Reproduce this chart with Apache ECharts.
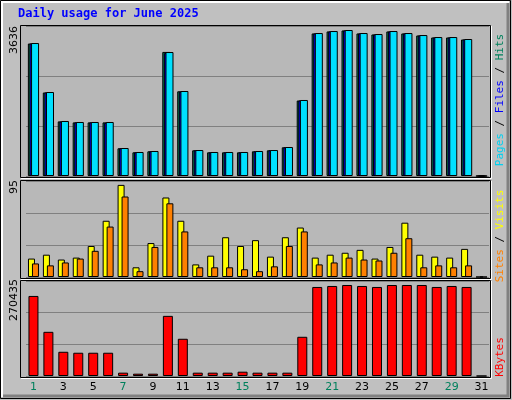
<!DOCTYPE html>
<html><head><meta charset="utf-8">
<script src="https://cdn.jsdelivr.net/npm/echarts@6/dist/echarts.min.js"></script>
<style>html,body{margin:0;padding:0;background:#c0c0c0}#c{width:512px;height:400px}</style>
</head><body><div id="c"></div>
<script>
const days = Array.from({length:31},(_,i)=>String(i+1));
const weekend = [1,7,8,14,15,21,22,28,29];
const hits = [3312,2092,1370,1345,1345,1345,697,598,623,3088,2117,647,598,598,598,623,647,722,1893,3561,3611,3636,3561,3536,3611,3561,3511,3461,3461,3412,0];
const files = [3300,2080,1355,1335,1335,1325,690,590,615,3060,2100,640,590,590,590,615,640,715,1880,3550,3600,3625,3550,3525,3600,3550,3500,3450,3450,3400,0];
const pages = [3300,2080,1360,1335,1335,1335,690,590,615,3090,2110,640,590,590,590,615,640,715,1880,3550,3600,3625,3550,3525,3600,3550,3500,3450,3450,3400,0];
const visits = [19,23,18,20,32,58,95,10,35,82,58,13,22,41,32,38,21,41,51,20,23,25,28,19,31,56,23,21,20,29,0];
const sites = [14,12,15,19,27,52,83,6,31,76,47,10,10,10,8,6,11,32,47,13,15,20,18,17,25,40,10,12,10,12,0];
const kbytes = [237900,131300,72000,69100,69100,69100,9900,6900,6900,178700,110600,9900,9900,9900,12800,9900,9900,9900,116500,264600,267500,270435,267500,264600,270400,270435,270435,264600,267500,264600,0];
const maxLabels = ['3636','95','270435'];

const chart = echarts.init(document.getElementById('c'));
const L=26, R=23;
const grids=[{left:L,right:R,top:26,height:150},{left:L,right:R,top:181,height:96},{left:L,right:R,top:281,height:95}];
const ymax=[3736,99,282300];
const xAxes = grids.map((g,i)=>({gridIndex:i,type:'category',data:days,boundaryGap:true,
  axisLine:{show:false},axisTick:{show:false},
  axisLabel:{show:i===2,margin:6,fontFamily:'DejaVu Sans',fontSize:11,
    color:(v)=>weekend.includes(+v)?'#00805c':'#000000'}}));
const yAxes = grids.map((g,i)=>({gridIndex:i,type:'value',min:0,max:ymax[i],interval:ymax[i]/3,
  axisLabel:{show:false},axisLine:{show:false},axisTick:{show:false},
  splitLine:{lineStyle:{color:'#808080',width:1}}}));
const bs={borderColor:'#000',borderWidth:1};
function bar(name,data,xi,color,w,gap){return {name,type:'bar',xAxisIndex:xi,yAxisIndex:xi,data,barWidth:w,barGap:gap,itemStyle:Object.assign({color},bs),silent:true,animation:false};}
const panelRects=[[20,25,470,152],[20,180,470,98],[20,280,470,97]];
const graphic=[
 {type:'rect',shape:{x:0.5,y:0.5,width:510,height:398},style:{fill:'#c0c0c0',stroke:'#000',lineWidth:1},z:-10},
 {type:'polyline',shape:{points:[[2,397],[2,2],[509,2]]},style:{stroke:'#fff',lineWidth:2,fill:null},z:-9},
 {type:'polyline',shape:{points:[[3,396],[508,396],[508,3]]},style:{stroke:'#808080',lineWidth:3,fill:null},z:-9},
];
panelRects.forEach(p=>{
 graphic.push({type:'rect',shape:{x:p[0]+0.5,y:p[1]+0.5,width:p[2],height:p[3]},style:{fill:'#b8b8b8',stroke:'#000',lineWidth:1},z:-8});
 graphic.push({type:'polyline',shape:{points:[[p[0]+1,p[1]+p[3]+1.5],[p[0]+p[2]+1.5,p[1]+p[3]+1.5],[p[0]+p[2]+1.5,p[1]+1]]},style:{stroke:'#fff',lineWidth:1,fill:null},z:-8});
});
graphic.push({type:'text',left:18,top:8,style:{text:'Daily usage for June 2025',font:'bold 12px "DejaVu Sans Mono"',fill:'#0000ff'}});
[[14,40],[14,187],[14,300]].forEach((p,i)=>graphic.push({type:'text',x:p[0],y:p[1],rotation:Math.PI/2,
  style:{text:maxLabels[i],font:'11px "DejaVu Sans"',fill:'#000',align:'center',verticalAlign:'middle'}}));
function rlabel(y,parts){graphic.push({type:'text',x:500,y:y,rotation:Math.PI/2,
  style:{text:parts.map(p=>'{'+p[1]+'|'+p[0]+'}').join(''),align:'center',verticalAlign:'middle',
  rich:Object.fromEntries(parts.map(p=>[p[1],{fill:p[2],font:'11px "DejaVu Sans Mono"'}]))}});}
rlabel(100,[['Pages','a','#00d0f0'],[' / ','s','#000'],['Files','b','#0000ff'],[' / ','t','#000'],['Hits','c','#00805c']]);
rlabel(236,[['Sites','a','#ff8000'],[' / ','s','#000'],['Visits','b','#ffff00']]);
rlabel(357,[['KBytes','a','#ff0000']]);
chart.setOption({animation:false,grid:grids,xAxis:xAxes,yAxis:yAxes,graphic,
 series:[
  bar('Pages',pages,0,'#00805c',8,'-80%'),
  bar('Files',files,0,'#0000ff',8,'-80%'),
  bar('Hits',hits,0,'#00e0ff',8,'-80%'),
  bar('Visits',visits,1,'#ffff00',7,'-43%'),
  bar('Sites',sites,1,'#ff8000',7,'-43%'),
  bar('KBytes',kbytes,2,'#ff0000',10,'0%')
 ]});
</script></body></html>
